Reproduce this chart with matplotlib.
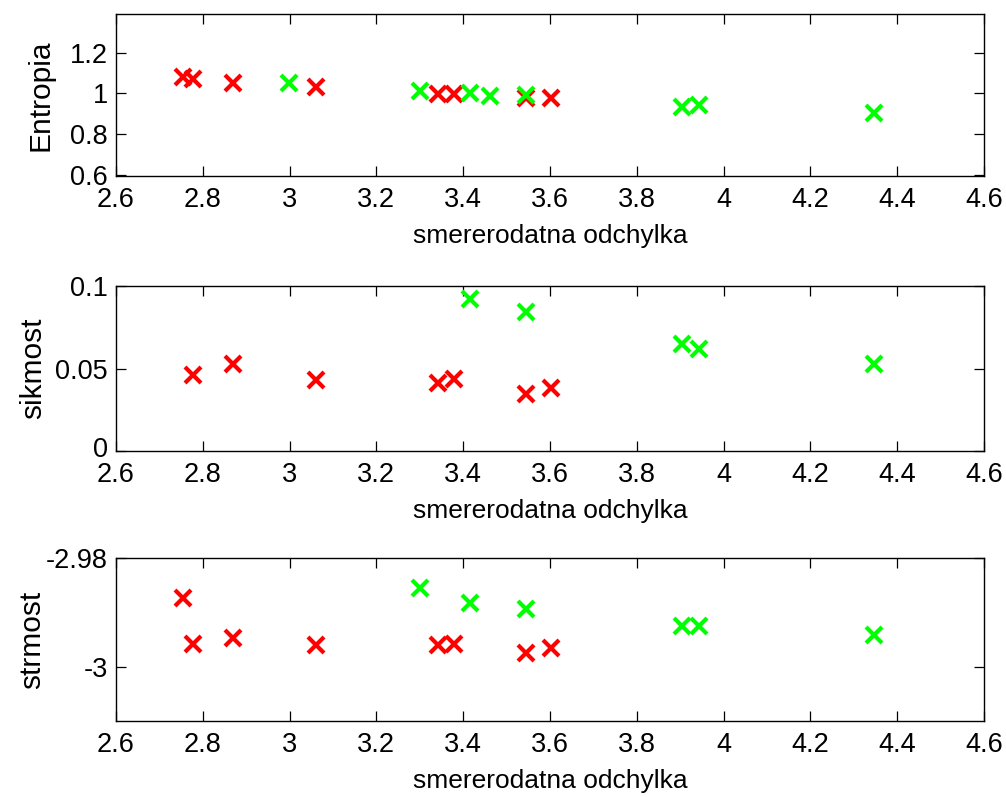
import numpy as np
import matplotlib
matplotlib.use("Agg")
import matplotlib.pyplot as plt
import matplotlib.transforms as mtransforms

plt.rcParams["font.family"] = ["Liberation Sans", "DejaVu Sans"]

nan = np.nan

# standard deviation (x) for the two groups
x_red = [2.755, 2.778, 2.869, 3.060, 3.343, 3.378, 3.545, 3.603]
x_green = [2.998, 3.301, 3.415, 3.462, 3.544, 3.905, 3.944, 4.347]

# entropy
entropia_red = [1.079, 1.071, 1.052, 1.031, 0.998, 0.998, 0.977, 0.977]
entropia_green = [1.052, 1.013, 1.000, 0.989, 0.994, 0.934, 0.945, 0.905]

# skewness (points outside the axis are not visible)
sikmost_red = [nan, 0.0459, 0.0525, 0.0430, 0.0410, 0.0434, 0.0343, 0.0380]
sikmost_green = [nan, nan, 0.0919, nan, 0.0842, 0.0648, 0.0618, 0.0525]

# kurtosis
strmost_red = [-2.98743, -2.99577, -2.99480, -2.99607, -2.99607, -2.99577, -2.99740, -2.99650]
strmost_green = [nan, -2.98550, -2.98834, nan, -2.98943, -2.99257, -2.99257, -2.99426]

xticks = [2.6, 2.8, 3.0, 3.2, 3.4, 3.6, 3.8, 4.0, 4.2, 4.4, 4.6]
xtick_labels = ["2.6", "2.8", "3", "3.2", "3.4", "3.6", "3.8", "4", "4.2", "4.4", "4.6"]
xlabel = "smererodatna odchylka"

panels = [
    # ylabel, red, green, ylim, yticks, ytick labels
    ("Entropia", entropia_red, entropia_green, (0.595, 1.39),
     [0.6, 0.8, 1.0, 1.2], ["0.6", "0.8", "1", "1.2"]),
    ("sikmost", sikmost_red, sikmost_green, (0.0, 0.1),
     [0.0, 0.05, 0.1], ["0", "0.05", "0.1"]),
    ("strmost", strmost_red, strmost_green, (-3.01, -2.98),
     [-3.0, -2.98], ["-3", "-2.98"]),
]

# axes boxes in figure fractions: left, bottom, width, height
positions = [
    [0.1153, 0.7792, 0.8628, 0.2033],
    [0.1153, 0.4341, 0.8628, 0.2070],
    [0.1153, 0.0954, 0.8628, 0.2045],
]
label_x = [-0.071, -0.079, -0.080]

fig = plt.figure(figsize=(10.06, 7.97), dpi=100)

for (ylab, yr, yg, ylim, yt, ytl), pos, lx in zip(panels, positions, label_x):
    ax = fig.add_axes(pos)
    ax.plot(x_red, yr, "x", color="#ff0000", markersize=11, markeredgewidth=3,
            linestyle="none")
    ax.plot(x_green, yg, "x", color="#00ff00", markersize=11, markeredgewidth=3,
            linestyle="none")
    ax.set_xlim(2.6, 4.6)
    ax.set_ylim(*ylim)
    ax.set_xticks(xticks, xtick_labels)
    ax.set_yticks(yt, ytl)
    ax.tick_params(direction="in", length=7, width=0.9, top=True, right=True,
                   labelsize=19.5)
    ax.tick_params(axis="y", pad=6)
    ax.tick_params(axis="x", pad=8)
    for s in ax.spines.values():
        s.set_linewidth(1.0)
        s.set_color("black")
    ax.set_xlabel(xlabel, fontsize=19, labelpad=8)
    ax.set_ylabel(ylab, fontsize=21.5)
    ax.yaxis.set_label_coords(lx, 0.5)
    # lowest y label sits just above the x labels, as in the original
    if yt[0] == ylim[0]:
        lab = ax.get_yticklabels()[0]
        lab.set_transform(lab.get_transform() +
                          mtransforms.ScaledTranslation(0, 4 / 100, fig.dpi_scale_trans))

fig.savefig("out.png", dpi=100)
